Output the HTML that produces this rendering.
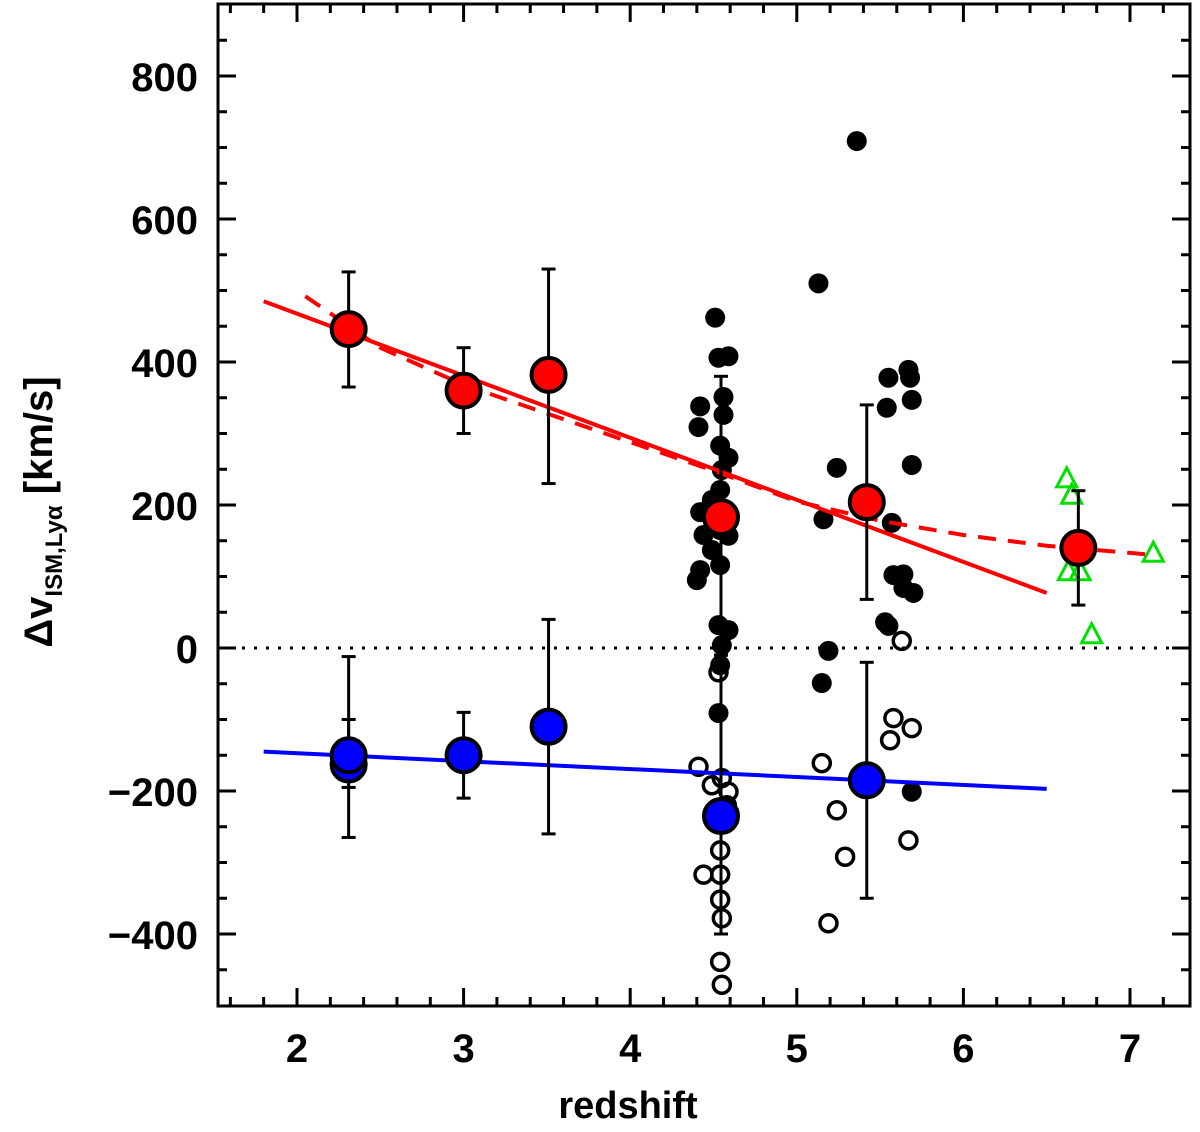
<!DOCTYPE html>
<html><head><meta charset="utf-8"><style>
html,body{margin:0;padding:0;background:#fff;}
svg{display:block;font-family:"Liberation Sans",sans-serif;}
</style></head><body>
<svg id="chart" width="1200" height="1132" viewBox="0 0 1200 1132">
<g id="marks"></g>
<g id="axes"></g>
<text x="628" y="1118" font-size="38" font-weight="bold" text-anchor="middle">redshift</text>
<text transform="translate(52,512) rotate(-90)" font-size="40" font-weight="bold" text-anchor="middle">Δv<tspan font-size="24" font-weight="bold" dy="10">ISM,Lyα</tspan><tspan dy="-10"> [km/s]</tspan></text>
</svg>
<script>
const filledZ=[4.51,4.53,4.59,4.42,4.41,4.56,4.56,4.54,4.59,4.55,4.54,4.42,4.49,4.54,4.44,4.59,4.49,4.54,4.42,4.40,4.53,4.59,4.55,4.54,4.53,5.36,5.13,5.24,5.16,5.19,5.15,5.55,5.67,5.68,5.54,5.69,5.69,5.57,5.58,5.64,5.64,5.70,5.55,5.53,5.69];
const filledV=[462,406,408,338,309,351,326,283,266,249,221,190,207,165,158,157,137,116,109,95,32,25,4,-24,-91,709,510,252,180,-4,-49,378,389,378,336,347,256,175,102,103,84,77,31,36,-201];
const openZ=[4.53,4.41,4.49,4.55,4.59,4.58,4.54,4.54,4.44,4.54,4.55,4.54,4.55,5.63,5.58,5.56,5.69,5.15,5.24,5.29,5.19,5.67];
const openV=[-34,-166,-192,-182,-201,-220,-283,-317,-317,-352,-378,-439,-471,10,-98,-129,-112,-161,-227,-292,-385,-269];
const triZ=[6.62,6.65,6.63,6.70,6.77,7.14];
const triV=[238,215,108,108,20,134];
const redZ=[2.31,3.0,3.51,4.545,5.42,6.69];
const redV=[446,360,382,183,204,140];
const redLo=[365,300,230,-10,68,60];
const redHi=[526,420,530,380,340,220];
const blueZ=[2.31,2.31,3.0,3.51,4.545,5.42];
const blueV=[-163,-150,-150,-110,-235,-185];
const blueLo=[-265,-195,-210,-260,-400,-350];
const blueHi=[-12,-100,-90,40,-10,-20];
const redFitZ=[1.8,6.5];
const redFitV=[485,77];
const redDashZ=[2.05,2.5,3.0,3.5,4.0,4.5,5.0,5.5,6.0,6.5,7.15];
const redDashV=[492,420,368,328,288,248,205,178,158,143,130];
const blueFitZ=[1.8,6.5];
const blueFitV=[-145,-197];
const xTicks=[2,3,4,5,6,7];
const yTicks=[-400,-200,0,200,400,600,800];

const NS="http://www.w3.org/2000/svg";
const L=218,R=1190,T=4,B=1006;
const X=z=>297+(z-2)*166.6;
const Y=v=>648-v*0.715;
const marks=document.getElementById('marks'), axes=document.getElementById('axes');
function mk(tag,attrs,parent){const e=document.createElementNS(NS,tag);for(const k in attrs)e.setAttribute(k,attrs[k]);(parent||marks).appendChild(e);return e;}

let zl=mk('line',{x1:L,x2:R,y1:Y(0),y2:Y(0),stroke:'#000','stroke-width':3,'stroke-dasharray':'3 9'});



filledZ.forEach((z,i)=>{const c=mk('circle',{cx:X(z),cy:Y(filledV[i]),r:10,fill:'#000'});

});
openZ.forEach((z,i)=>{const c=mk('circle',{cx:X(z),cy:Y(openV[i]),r:8.5,fill:'none',stroke:'#000','stroke-width':3.5});

});
triZ.forEach((z,i)=>{const x=X(z),y=Y(triV[i]);const t=mk('polygon',{points:`${x-10},${y+9} ${x+10},${y+9} ${x},${y-10}`,fill:'none',stroke:'#00e000','stroke-width':3});

});

function poly(zs,vs,color,dash,name){const p=mk('polyline',{points:zs.map((z,i)=>X(z)+','+Y(vs[i])).join(' '),fill:'none',stroke:color,'stroke-width':4});
if(dash)p.setAttribute('stroke-dasharray',dash);

}
poly(redFitZ,redFitV,'#f00',null,'red-linear-fit');
poly(redDashZ,redDashV,'#f00','18 12','red-dashed-fit');
poly(blueFitZ,blueFitV,'#00f',null,'blue-linear-fit');

function errs(zs,vs,lo,hi,color,name){zs.forEach((z,i)=>{const x=X(z);
const g=mk('g',{});


mk('line',{x1:x,x2:x,y1:Y(lo[i]),y2:Y(hi[i]),stroke:'#000','stroke-width':3},g);
mk('line',{x1:x-7,x2:x+7,y1:Y(lo[i]),y2:Y(lo[i]),stroke:'#000','stroke-width':3},g);
mk('line',{x1:x-7,x2:x+7,y1:Y(hi[i]),y2:Y(hi[i]),stroke:'#000','stroke-width':3},g);});
zs.forEach((z,i)=>{const c=mk('circle',{cx:X(z),cy:Y(vs[i]),r:17,fill:color,stroke:'#000','stroke-width':4});

});}
errs(redZ,redV,redLo,redHi,'#f00','red');
errs(blueZ,blueV,blueLo,blueHi,'#00f','blue');

const fr=mk('rect',{x:L,y:T,width:R-L,height:B-T,fill:'none',stroke:'#000','stroke-width':3},axes);


for(let k=8;k<=36;k++){const z=k/5;const x=X(z);if(x<L+1||x>R-1)continue;const major=k%5===0;const len=major?18:9;
mk('line',{x1:x,x2:x,y1:B,y2:B-len,stroke:'#000','stroke-width':3},axes);
mk('line',{x1:x,x2:x,y1:T,y2:T+len,stroke:'#000','stroke-width':3},axes);}
for(let v=-450;v<=900;v+=50){const y=Y(v);if(y<T+1||y>B-1)continue;const major=v%200===0;const len=major?18:9;
mk('line',{x1:L,x2:L+len,y1:y,y2:y,stroke:'#000','stroke-width':3},axes);
mk('line',{x1:R,x2:R-len,y1:y,y2:y,stroke:'#000','stroke-width':3},axes);}
xTicks.forEach(t=>{const e=mk('text',{x:X(t),y:1062,'font-size':40,'font-weight':'bold','text-anchor':'middle'},axes);e.textContent=t;

});
yTicks.forEach(t=>{const e=mk('text',{x:198,y:Y(t)+15,'font-size':40,'font-weight':'bold','text-anchor':'end'},axes);e.textContent=(t<0?'−':'')+Math.abs(t);

});
</script>
</body></html>
